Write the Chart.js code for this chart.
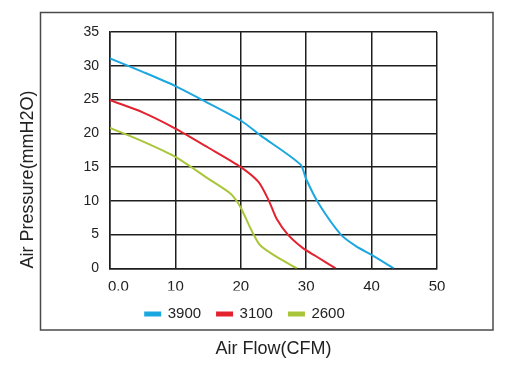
<!DOCTYPE html>
<html>
<head>
<meta charset="utf-8">
<script src="https://cdn.jsdelivr.net/npm/chart.js@4.4.1/dist/chart.umd.min.js"></script>
<style>
  html, body { margin: 0; padding: 0; background: #fff; }
  #wrap { width: 505px; height: 366px; }
</style>
</head>
<body>
<div id="wrap"><canvas id="fanChart" width="505" height="366"></canvas></div>
<script>
// fan curves (flow in CFM, pressure in mmH2O)
const speeds = ['3900', '3100', '2600'];

const flow3900 = [0, 5, 10, 14, 20, 23, 29.1, 30, 31.9, 35.3, 37.6, 40, 43.4];
const pres3900 = [31.1, 29.1, 27.0, 25, 21.9, 19.7, 15.4, 13.2, 9.6, 5.0, 3.3, 2.0, 0];

const flow3100 = [0, 5, 10, 15, 20, 22.7, 24.3, 25.5, 27.2, 29.5, 31.5, 34.5];
const pres3100 = [24.9, 23.1, 20.7, 17.9, 15.0, 12.8, 10, 7.3, 5, 3, 1.8, 0];

const flow2600 = [0, 5, 10, 15, 18.4, 19.5, 20.2, 21.7, 23, 26, 28.6];
const pres2600 = [20.8, 18.8, 16.5, 13.3, 11.1, 9.8, 8.6, 5.5, 3.4, 1.4, 0];

const xTicks = [0, 10, 20, 30, 40, 50];
const yTicks = [0, 5, 10, 15, 20, 25, 30, 35];

const colors = ['#1ba7e0', '#e3222f', '#a9c63a'];

function toPoints(xs, ys) {
    return xs.map((x, i) => ({ x: x, y: ys[i] }));
}

const series = [
    toPoints(flow3900, pres3900),
    toPoints(flow3100, pres3100),
    toPoints(flow2600, pres2600)
];

const fontFam = '"Liberation Sans", Arial, sans-serif';
const gridColor = '#1e1e1e';

// frame around plot + legend
const framePlugin = {
    id: 'frame',
    beforeDraw(chart) {
        const c = chart.ctx;
        c.save();
        c.strokeStyle = '#4a4a4a';
        c.lineWidth = 1.5;
        c.strokeRect(40.5, 12.5, 452.5, 317.5);
        c.restore();
    }
};

const ctx = document.getElementById('fanChart').getContext('2d');
const fanChart = new Chart(ctx, {
    type: 'line',
    data: {
        datasets: speeds.map((s, i) => ({
            label: s,
            data: series[i],
            borderColor: colors[i],
            backgroundColor: colors[i],
            borderWidth: 2,
            pointRadius: 0,
            fill: false,
            tension: 0.25
        }))
    },
    options: {
        responsive: false,
        animation: false,
        layout: {
            padding: { left: 12, right: 27, top: 32, bottom: 0 }
        },
        scales: {
            x: {
                type: 'linear',
                min: 0,
                max: 50,
                afterBuildTicks: (scale) => { scale.ticks = xTicks.map(v => ({ value: v })); },
                afterFit: (scale) => { scale.height = scale.height - 14; },
                ticks: {
                    color: '#222',
                    font: { family: fontFam, size: 15 },
                    padding: 9,
                    maxRotation: 0,
                    callback: (v) => v === 0 ? '    0.0' : String(v)
                },
                grid: { color: gridColor, lineWidth: 1.5, drawTicks: false },
                border: { color: gridColor, width: 1.5 }
            },
            y: {
                type: 'linear',
                min: 0,
                max: 35,
                afterBuildTicks: (scale) => { scale.ticks = yTicks.map(v => ({ value: v })); },
                afterFit: (scale) => { scale.width = 98; },
                ticks: {
                    color: '#222',
                    font: { family: fontFam, size: 14 },
                    padding: 11
                },
                grid: { color: gridColor, lineWidth: 1.5, drawTicks: false },
                border: { color: gridColor, width: 1.5 },
                title: {
                    display: true,
                    align: 'start',
                    text: 'Air Pressure(mmH2O)',
                    color: '#222',
                    font: { family: fontFam, size: 18 },
                    padding: { top: 5, bottom: 0 }
                }
            },
            yRight: {
                type: 'linear',
                position: 'right',
                min: 0,
                max: 35,
                afterFit: (scale) => { scale.width = 41; },
                ticks: { display: false },
                grid: { display: false, drawOnChartArea: false },
                border: { display: false }
            }
        },
        plugins: {
            legend: {
                display: true,
                position: 'bottom',
                labels: {
                    color: '#222',
                    font: { family: fontFam, size: 15 },
                    boxWidth: 15,
                    boxHeight: 3,
                    padding: 16
                }
            },
            title: {
                display: true,
                position: 'bottom',
                fullSize: false,
                text: 'Air Flow(CFM)',
                color: '#222',
                font: { family: fontFam, size: 18, weight: 'normal' },
                padding: { top: 7, bottom: 6 }
            },
            tooltip: { enabled: false }
        }
    },
    plugins: [framePlugin]
});
</script>
</body>
</html>
